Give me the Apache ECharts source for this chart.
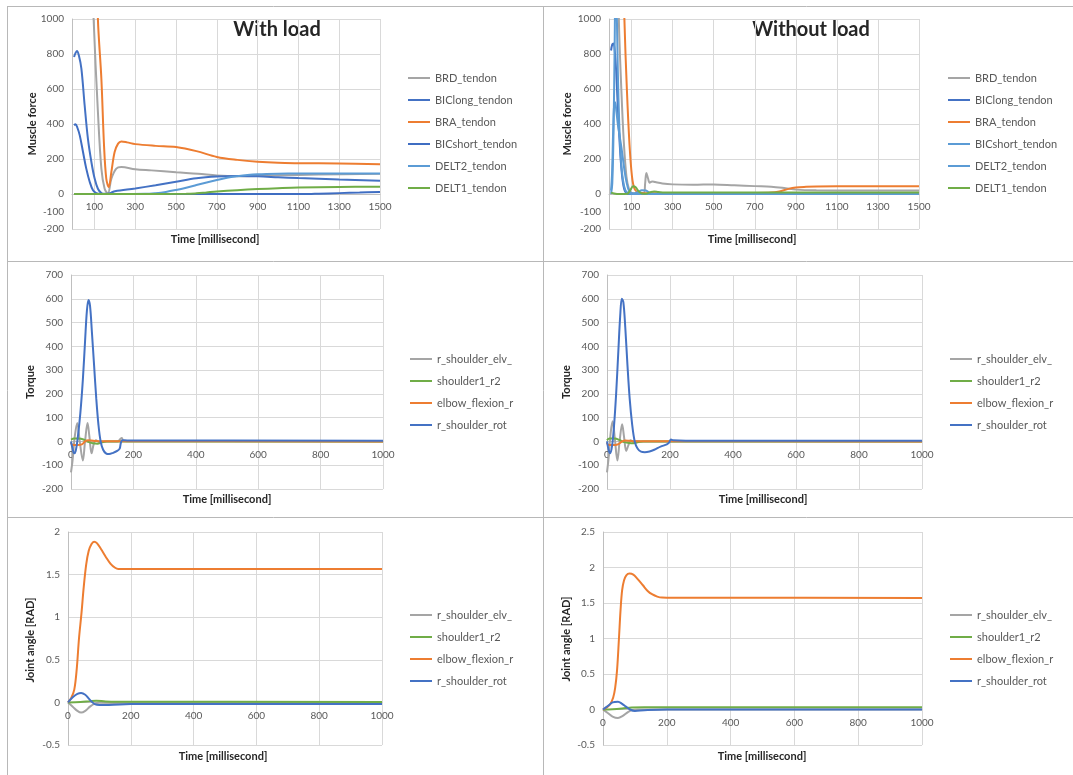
<!DOCTYPE html>
<html><head><meta charset="utf-8">
<script src="https://cdn.jsdelivr.net/npm/echarts@6/dist/echarts.min.js"></script>
<style>html,body{margin:0;padding:0;background:#fff}#c{width:1073px;height:775px}</style>
</head><body><div id="c"></div>
<script>
// ---------- names / ticks ----------
const forceNames = ['BRD_tendon','BIClong_tendon','BRA_tendon','BICshort_tendon','DELT2_tendon','DELT1_tendon'];
const jointNames = ['r_shoulder_elv_','shoulder1_r2','elbow_flexion_r','r_shoulder_rot'];
const forceXTicks = [100,300,500,700,900,1100,1300,1500];
const forceYTicks = [-200,0,200,400,600,800,1000];
const forceYLabels = [-200,-100,0,200,400,600,800,1000];
const forceColorsLoad = ['#A5A5A5','#4472C4','#ED7D31','#3F6DC2','#5B9BD5','#70AD47'];
const forceColorsNoLoad = ['#A5A5A5','#4472C4','#ED7D31','#5B9BD5','#5B9BD5','#70AD47'];
const jointColors = ['#A5A5A5','#70AD47','#ED7D31','#4472C4'];

// ---------- Muscle force, with load ----------
const wlBRD = [[0,4000],[60,2200],[96,1000],[117,470],[134,145],[150,30],[166,3],[183,87],[207,145],[232,154],[300,142],[379,135],[500,124],[608,116],[700,106],[800,102],[900,103],[1000,107],[1200,111],[1500,115]];
const wlBIClong = [[0,783],[7,805],[14,817],[24,790],[36,716],[52,507],[68,316],[85,183],[101,88],[117,30],[134,5],[150,1],[166,2],[183,8],[200,16],[300,32],[400,50],[500,70],[600,90],[700,100],[800,103],[900,101],[1000,96],[1100,91],[1300,83],[1500,76]];
const wlBRA = [[0,5000],[80,2500],[117,1000],[134,659],[147,278],[158,88],[170,40],[183,126],[199,240],[216,288],[232,300],[260,295],[300,285],[400,275],[500,268],[600,245],[700,212],[800,195],[900,184],[1000,178],[1100,176],[1300,174],[1500,170]];
const wlBICshort = [[0,393],[7,398],[16,380],[28,335],[44,240],[60,145],[77,69],[93,21],[109,5],[130,0],[400,0],[800,0],[1150,0],[1200,2],[1300,5],[1400,8],[1500,12]];
const wlDELT2 = [[0,0],[200,0],[350,1],[400,5],[450,12],[500,23],[550,36],[600,51],[650,66],[700,80],[750,93],[800,102],[850,109],[900,113],[1000,116],[1100,117],[1300,117],[1500,117]];
const wlDELT1 = [[0,0],[300,0],[550,1],[600,4],[650,9],[700,14],[800,22],[900,28],[1000,33],[1100,37],[1300,40],[1500,42]];

// ---------- Muscle force, without load ----------
const nlBRD = [[0,4000],[25,2000],[38,1000],[50,600],[62,300],[75,100],[88,25],[100,6],[130,3],[160,5],[166,60],[172,120],[180,90],[188,65],[200,72],[215,68],[250,60],[300,55],[400,53],[500,55],[600,50],[700,45],[780,42],[850,33],[900,25],[1000,21],[1200,20],[1500,20]];
const nlBIClong = [[0,820],[6,855],[12,860],[18,820],[25,700],[32,520],[40,330],[48,180],[56,80],[65,25],[75,5],[90,0],[400,0],[1500,0]];
const nlBRA = [[0,6000],[40,2200],[65,1000],[77,600],[90,280],[102,100],[114,30],[130,10],[160,5],[300,5],[700,6],[780,8],[820,15],[860,28],[900,37],[950,41],[1000,43],[1200,44],[1500,44]];
const nlBICshort = [[0,0],[6,60],[12,350],[18,900],[22,1300],[27,1100],[33,700],[40,400],[48,200],[58,80],[70,20],[85,3],[100,0],[400,0],[1500,0]];
const nlDELT2 = [[0,20],[5,120],[10,350],[15,510],[20,525],[26,470],[34,390],[42,330],[50,270],[58,200],[66,130],[75,70],[85,25],[95,8],[110,3],[130,10],[150,22],[170,20],[185,8],[200,2],[300,0],[1500,0]];
const nlDELT1 = [[0,8],[15,3],[40,0],[80,2],[95,25],[108,44],[120,38],[135,15],[150,3],[170,2],[190,10],[210,15],[230,12],[260,8],[300,8],[800,8],[1500,9]];

// ---------- Torque, with load ----------
const wtElv = [[0,-130],[5,-80],[12,20],[20,78],[28,0],[38,-80],[45,0],[53,78],[59,20],[66,-50],[73,-10],[80,5],[90,-3],[100,0],[150,0],[158,10],[163,14],[168,2],[200,1],[1000,0]];
const wtR2 = [[0,8],[10,12],[25,12],[40,8],[55,-2],[70,-8],[85,-10],[100,-3],[115,0],[1000,0]];
const wtElbow = [[0,-5],[5,-15],[20,-15],[35,-12],[45,0],[55,5],[65,4],[80,2],[100,1],[160,1],[1000,0]];
const wtRot = [[0,0],[5,-30],[10,-50],[15,-40],[22,20],[30,120],[38,260],[45,420],[51,550],[56,595],[61,570],[67,460],[74,320],[81,180],[88,70],[95,0],[103,-35],[112,-50],[122,-53],[135,-48],[148,-40],[156,-30],[160,-5],[165,5],[180,4],[1000,3]];

// ---------- Torque, without load ----------
const ntElv = [[0,-130],[5,-70],[12,40],[18,85],[25,10],[33,-80],[40,0],[48,72],[54,20],[61,-40],[68,-15],[75,5],[85,-3],[95,2],[110,0],[1000,0]];
const ntR2 = [[0,5],[8,12],[25,12],[40,6],[55,-3],[70,-7],[85,-8],[100,-2],[115,0],[1000,0]];
const ntElbow = [[0,-5],[5,-15],[25,-15],[38,-10],[48,0],[58,4],[70,3],[90,1],[1000,0]];
const ntRot = [[0,0],[5,-35],[10,-50],[16,-20],[22,60],[29,200],[36,380],[42,530],[47,600],[52,585],[58,480],[65,320],[72,180],[80,70],[88,0],[97,-30],[108,-43],[120,-45],[135,-42],[150,-35],[170,-22],[190,-12],[197,-5],[203,8],[210,5],[250,3],[1000,3]];

// ---------- Joint angle, with load ----------
const waElv = [[0,0],[15,-0.05],[30,-0.1],[42,-0.12],[55,-0.1],[70,-0.05],[85,-0.015],[100,-0.005],[200,-0.01],[1000,-0.01]];
const waR2 = [[0,0],[40,0.005],[70,0.015],[90,0.02],[120,0.012],[200,0.008],[1000,0.005]];
const waElbow = [[0,0],[10,0.05],[20,0.15],[28,0.4],[35,0.75],[43,1.05],[50,1.35],[58,1.62],[66,1.78],[75,1.86],[83,1.885],[92,1.87],[105,1.8],[120,1.71],[135,1.63],[150,1.58],[160,1.565],[200,1.565],[400,1.565],[1000,1.565]];
const waRot = [[0,0],[15,0.06],[30,0.1],[42,0.11],[55,0.09],[65,0.05],[75,0.01],[85,-0.02],[100,-0.03],[130,-0.03],[200,-0.02],[1000,-0.02]];

// ---------- Joint angle, without load ----------
const naElv = [[0,0],[15,-0.05],[30,-0.1],[47,-0.12],[62,-0.09],[77,-0.04],[90,-0.01],[110,0],[1000,0]];
const naR2 = [[0,0],[30,0.005],[60,0.015],[90,0.028],[130,0.03],[1000,0.03]];
const naElbow = [[0,0],[12,0.03],[22,0.07],[32,0.17],[38,0.3],[44,0.55],[50,1.0],[55,1.4],[60,1.68],[66,1.82],[73,1.89],[83,1.915],[95,1.9],[108,1.84],[125,1.75],[140,1.67],[155,1.62],[170,1.59],[185,1.576],[200,1.575],[400,1.575],[1000,1.572]];
const naRot = [[0,0],[15,0.05],[30,0.1],[47,0.11],[60,0.08],[72,0.04],[85,0],[100,-0.02],[130,-0.01],[200,0],[1000,0]];

// ---------- layout ----------
const FONT = 'Lato, "Open Sans", sans-serif';
const grids = [
  {left:72, top:19, width:308, height:210},
  {left:609, top:19, width:310, height:210},
  {left:71, top:275, width:312, height:214},
  {left:607, top:275, width:315, height:214},
  {left:68, top:532, width:314, height:213},
  {left:603, top:532, width:319, height:213}
];
const yRanges = [[-200,1000],[-200,1000],[-200,700],[-200,700],[-0.5,2],[-0.5,2.5]];
const axisLineC = '#bfbfbf', gridC = '#d9d9d9', labelC = '#595959';
const fmt = v => String(v);
const lbl = {color:labelC, fontSize:10, fontFamily:FONT, margin:8, formatter:fmt};
// x axis drawn at the zero line of the value axis (shifted up from the grid bottom)
const zeroOffset = i => -grids[i].height * (0 - yRanges[i][0]) / (yRanges[i][1] - yRanges[i][0]);

function xAxisForce(i){
  return {type:'value', gridIndex:i, min:-10, max:1500, position:'bottom', offset:zeroOffset(i),
    axisLine:{show:true, onZero:false, lineStyle:{color:axisLineC}},
    axisTick:{show:false, customValues:forceXTicks},
    axisLabel:Object.assign({customValues:forceXTicks}, lbl),
    splitLine:{show:true, lineStyle:{color:gridC}}};
}
function xAxisTime(i){
  return {type:'value', gridIndex:i, min:0, max:1000, interval:200, position:'bottom', offset:zeroOffset(i),
    axisLine:{show:true, onZero:false, lineStyle:{color:axisLineC}},
    axisTick:{show:false},
    axisLabel:Object.assign({}, lbl),
    splitLine:{show:true, lineStyle:{color:gridC}}};
}
function yAxisBase(i, extra){
  return Object.assign({type:'value', gridIndex:i, min:yRanges[i][0], max:yRanges[i][1],
    axisLine:{show:true, onZero:false, lineStyle:{color:axisLineC}},
    axisTick:{show:false},
    axisLabel:Object.assign({}, lbl),
    splitLine:{show:true, lineStyle:{color:gridC}}}, extra);
}
const yForce = i => yAxisBase(i, {
  axisTick:{show:false, customValues:forceYTicks},
  axisLabel:Object.assign({customValues:forceYLabels}, lbl)});

const xAxes = [xAxisForce(0), xAxisForce(1), xAxisTime(2), xAxisTime(3), xAxisTime(4), xAxisTime(5)];
const yAxes = [yForce(0), yForce(1),
  yAxisBase(2,{interval:100}), yAxisBase(3,{interval:100}),
  yAxisBase(4,{interval:0.5}), yAxisBase(5,{interval:0.5})];

const panelData = [
  [wlBRD, wlBIClong, wlBRA, wlBICshort, wlDELT2, wlDELT1],
  [nlBRD, nlBIClong, nlBRA, nlBICshort, nlDELT2, nlDELT1],
  [wtElv, wtR2, wtElbow, wtRot],
  [ntElv, ntR2, ntElbow, ntRot],
  [waElv, waR2, waElbow, waRot],
  [naElv, naR2, naElbow, naRot]
];
const panelNames = [forceNames, forceNames, jointNames, jointNames, jointNames, jointNames];
const panelColors = [forceColorsLoad, forceColorsNoLoad, jointColors, jointColors, jointColors, jointColors];

const series = [];
panelData.forEach((arrs, p) => {
  arrs.forEach((d, k) => {
    series.push({type:'line', name:panelNames[p][k], xAxisIndex:p, yAxisIndex:p,
      data:d, smooth:0.35, showSymbol:false, symbol:'none', clip:true,
      lineStyle:{width:2, color:panelColors[p][k]}, itemStyle:{color:panelColors[p][k]},
      silent:true, z:2+k});
  });
});

const legendPos = [
  {left:408, top:71}, {left:948, top:71},
  {left:410, top:352}, {left:950, top:352},
  {left:410, top:608}, {left:950, top:608}
];
const legends = legendPos.map((pos, p) => ({
  orient:'vertical', left:pos.left, top:pos.top, padding:0,
  icon:'rect', itemWidth:22, itemHeight:2, itemGap:8,
  selectedMode:false,
  textStyle:{color:labelC, fontSize:11, fontFamily:FONT, lineHeight:14},
  data: panelNames[p].map((n, k) => ({name:n, itemStyle:{color:panelColors[p][k]}}))
}));

const border = '#b8b8b8';
function ln(x1,y1,x2,y2){ return {type:'line', silent:true, shape:{x1,y1,x2,y2}, style:{stroke:border, lineWidth:1}}; }
function txt(x,y,text,font,rot){ return {type:'text', silent:true, x, y, rotation:rot||0,
  style:{text, font, fill:'#262626', align:'center', verticalAlign:'middle'}}; }
const tFont = 'bold 11px ' + FONT;
const graphics = [
  ln(7,6.5,1073,6.5), ln(7.5,6,7.5,775), ln(543.5,6,543.5,775), ln(7,261.5,1073,261.5), ln(7,517.5,1073,517.5),
  txt(277,30,'With load','bold 20px ' + FONT), txt(811,30,'Without load','bold 20px ' + FONT),
  txt(215,239,'Time [millisecond]',tFont), txt(752,239,'Time [millisecond]',tFont),
  txt(227,499,'Time [millisecond]',tFont), txt(763,499,'Time [millisecond]',tFont),
  txt(223,756,'Time [millisecond]',tFont), txt(762,756,'Time [millisecond]',tFont),
  txt(32,124,'Muscle force',tFont,Math.PI/2), txt(567,124,'Muscle force',tFont,Math.PI/2),
  txt(30,382,'Torque',tFont,Math.PI/2), txt(566,382,'Torque',tFont,Math.PI/2),
  txt(30,640,'Joint angle [RAD]',tFont,Math.PI/2), txt(566,639,'Joint angle [RAD]',tFont,Math.PI/2)
];

const chart = echarts.init(document.getElementById('c'), null, {renderer:'canvas'});
chart.setOption({
  animation:false, backgroundColor:'#fff',
  grid: grids.map(g => Object.assign({containLabel:false}, g)),
  xAxis:xAxes, yAxis:yAxes, legend:legends, series, graphic:graphics
});
</script></body></html>
